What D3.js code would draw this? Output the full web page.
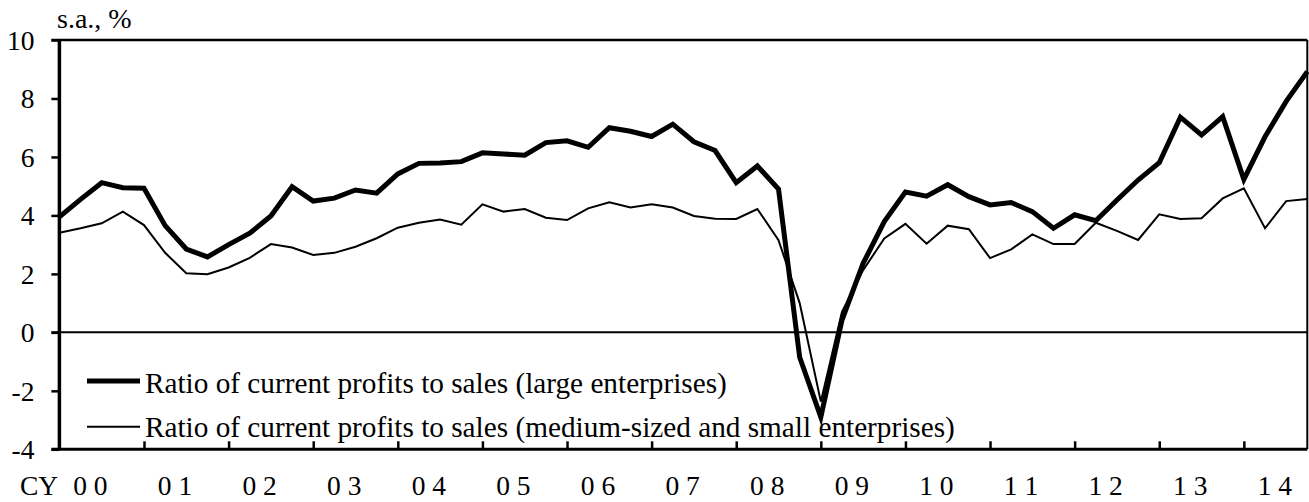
<!DOCTYPE html>
<html><head><meta charset="utf-8">
<script src="https://cdn.jsdelivr.net/npm/d3@7"></script>
<style>
html,body{margin:0;padding:0;background:#fff;}
svg{display:block;font-family:"Liberation Serif","Times New Roman",serif;}
</style>
</head><body>
<svg id="c" width="1309" height="502"></svg>
<script>
// Year labels (one per calendar year, quarterly data 2000Q1 - 2014Q4)
const axisPrefix = "CY";
const yearLabels = ["0 0","0 1","0 2","0 3","0 4","0 5","0 6","0 7","0 8","0 9","1 0","1 1","1 2","1 3","1 4"];
// Ratio of current profits to sales (large enterprises), s.a., %
const large = [3.95,4.55,5.12,4.95,4.93,3.65,2.85,2.58,3.00,3.39,
               3.98,4.98,4.49,4.59,4.87,4.76,5.42,5.78,5.79,5.84,
               6.14,6.10,6.06,6.49,6.55,6.33,7.00,6.88,6.70,7.12,
               6.52,6.22,5.12,5.69,4.90,-0.85,-2.90,0.42,2.36,3.79,
               4.80,4.66,5.05,4.64,4.36,4.44,4.13,3.56,4.02,3.82,
               4.53,5.21,5.80,7.36,6.75,7.38,5.23,6.69,7.90,8.92];
// Ratio of current profits to sales (medium-sized and small enterprises), s.a., %
const small = [3.41,3.56,3.73,4.13,3.67,2.72,2.02,1.99,2.22,2.55,
               3.02,2.90,2.65,2.72,2.93,3.22,3.58,3.75,3.86,3.68,
               4.38,4.13,4.22,3.92,3.84,4.24,4.45,4.27,4.38,4.27,
               3.98,3.89,3.88,4.22,3.15,1.00,-2.37,0.70,2.13,3.21,
               3.71,3.03,3.65,3.53,2.54,2.84,3.35,3.02,3.02,3.75,
               3.47,3.16,4.04,3.88,3.90,4.58,4.93,3.56,4.49,4.56];
const yTicks = [-4,-2,0,2,4,6,8,10];
const unitLabel = "s.a., %";
const legendLabels = ["Ratio of current profits to sales (large enterprises)",
                      "Ratio of current profits to sales (medium-sized and small enterprises)"];

const m = {l:59.4, r:1307.3, t:40, b:449.3};
const x = d3.scaleLinear().domain([0, large.length - 1]).range([m.l, m.r]);
const y = d3.scaleLinear().domain([-4, 10]).range([m.b, m.t]);
const svg = d3.select("#c");
const FONT = '"Liberation Serif","Times New Roman",serif';

// series
const line = d3.line().x((d, i) => x(i)).y(d => y(d));
svg.append("path").datum(small).attr("d", line).attr("fill", "none")
  .attr("stroke", "#000").attr("stroke-width", 2).attr("stroke-linejoin", "miter");
svg.append("path").datum(large).attr("d", line).attr("fill", "none")
  .attr("stroke", "#000").attr("stroke-width", 5).attr("stroke-linejoin", "miter");

// zero line
svg.append("line").attr("x1", m.l - 8).attr("x2", m.r).attr("y1", y(0)).attr("y2", y(0))
  .attr("stroke", "#000").attr("stroke-width", 2);

// y axis
const ya = svg.append("g").attr("transform", `translate(${m.l},0)`)
  .call(d3.axisLeft(y).tickValues(yTicks).tickSize(8).tickPadding(17).tickFormat(d => String(d)));
ya.attr("font-family", FONT).attr("font-size", 27.5);
ya.select(".domain").remove();
ya.selectAll(".tick line").attr("stroke", "#000").attr("stroke-width", 2.5);
ya.selectAll(".tick text").attr("fill", "#000").attr("dy", "0.34em");

// x axis ticks (year boundaries, pointing inward)
const yearTicks = yearLabels.slice(1).map((d, k) => (k + 1) * 4);
const xa = svg.append("g").attr("transform", `translate(0,${m.b})`)
  .call(d3.axisBottom(x).tickValues(yearTicks).tickSizeInner(-8).tickSizeOuter(0).tickFormat(""));
xa.select(".domain").remove();
xa.selectAll(".tick line").attr("stroke", "#000").attr("stroke-width", 2.5);

// year labels
const qw = x(1) - x(0);
const yl = svg.append("g").selectAll("text").data(yearLabels).join("text")
  .attr("x", (d, k) => x(k * 4) + 31).attr("y", 494.5)
  .attr("text-anchor", "middle").attr("font-size", 27.5).attr("fill", "#000")
  .attr("xml:space", "preserve").style("white-space", "pre")
  .text(d => d);
svg.append("text").attr("x", 20).attr("y", 494.5).attr("font-size", 27.5).attr("fill", "#000").text(axisPrefix);

// frame
svg.append("line").attr("x1", m.l - 8).attr("x2", m.r).attr("y1", m.t).attr("y2", m.t)
  .attr("stroke", "#000").attr("stroke-width", 2.5);
svg.append("line").attr("x1", m.l - 8).attr("x2", m.r).attr("y1", m.b).attr("y2", m.b)
  .attr("stroke", "#000").attr("stroke-width", 3);
svg.append("line").attr("x1", m.l).attr("x2", m.l).attr("y1", m.t).attr("y2", m.b)
  .attr("stroke", "#000").attr("stroke-width", 3.5);
svg.append("line").attr("x1", m.r).attr("x2", m.r).attr("y1", m.t).attr("y2", m.b)
  .attr("stroke", "#000").attr("stroke-width", 2);

// unit label
svg.append("text").attr("x", 57).attr("y", 28).attr("font-size", 28).attr("fill", "#000").text(unitLabel);

// legend
const leg = svg.append("g");
const legY = [381, 426.7], legW = [5, 2], legBase = [393, 437];
legendLabels.forEach((t, k) => {
  leg.append("line").attr("x1", 87).attr("x2", 140).attr("y1", legY[k]).attr("y2", legY[k])
    .attr("stroke", "#000").attr("stroke-width", legW[k]);
  leg.append("text").attr("x", 145).attr("y", legBase[k]).attr("font-size", 29.25).attr("fill", "#000").text(t);
});
</script>
</body></html>
